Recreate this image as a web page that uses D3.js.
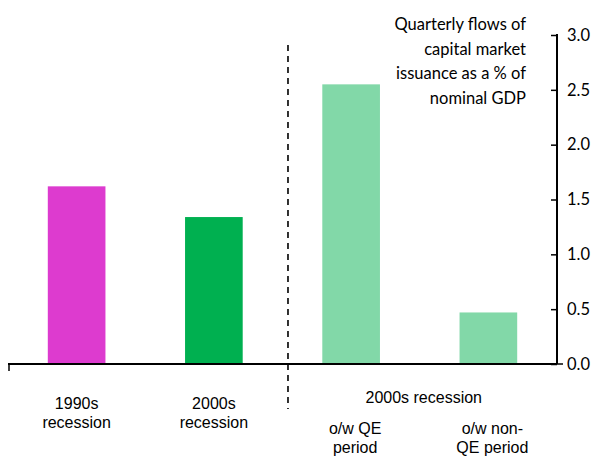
<!DOCTYPE html>
<html>
<head>
<meta charset="utf-8">
<script src="https://cdn.jsdelivr.net/npm/d3@7"></script>
<style>
  html, body { margin: 0; padding: 0; background: #fff; }
  svg { display: block; }
</style>
</head>
<body>
<svg id="chart" width="604" height="456"></svg>
<script>
// Capital market issuance during recessions (% of nominal GDP, quarterly flows)
const categories = ["1990s recession", "2000s recession", "o/w QE period", "o/w non-QE period"];
const values = [1.62, 1.34, 2.55, 0.47];
const barColors = ["#DD3BCF", "#00B050", "#82D8A8", "#82D8A8"];
const categoryLines = [["1990s", "recession"], ["2000s", "recession"], ["o/w QE", "period"], ["o/w non-", "QE period"]];
const yTicks = [0, 0.5, 1.0, 1.5, 2.0, 2.5, 3.0];
const groupLabel = "2000s recession";
const noteLines = ["Quarterly flows of", "capital market", "issuance as a % of", "nominal GDP"];

const svg = d3.select("#chart");
const plotLeft = 8, plotRight = 557, plotTop = 35, plotBottom = 364;

const x = d3.scaleBand().domain(categories).range([plotLeft, plotRight]).paddingInner(0.58).paddingOuter(0.29);
const y = d3.scaleLinear().domain([0, 3]).range([plotBottom, plotTop]);

// bars
svg.append("g").selectAll("rect").data(values).join("rect")
  .attr("x", (d, i) => x(categories[i]))
  .attr("width", x.bandwidth())
  .attr("y", d => y(d))
  .attr("height", d => y(0) - y(d))
  .attr("fill", (d, i) => barColors[i]);

// right-hand value axis, ticks pointing inward
const yAxis = d3.axisRight(y).tickValues(yTicks).tickFormat(d3.format(".1f")).tickSizeInner(-6).tickSizeOuter(0);
const gy = svg.append("g").attr("transform", `translate(${plotRight},0)`).call(yAxis);
gy.select(".domain").attr("stroke", "#000").attr("stroke-width", 2).attr("d", `M0,${plotTop - 1}V${plotBottom}`);
gy.selectAll(".tick line").attr("stroke", "#000").attr("stroke-width", 1.5);
gy.selectAll(".tick text")
  .attr("x", 10)
  .attr("font-family", "Lato, 'Open Sans', sans-serif")
  .attr("font-size", 16.5)
  .attr("fill", "#000");
// small outward tick at zero
svg.append("line").attr("x1", plotRight).attr("x2", plotRight + 6).attr("y1", y(0)).attr("y2", y(0))
  .attr("stroke", "#000").attr("stroke-width", 1.5);

// category axis baseline
svg.append("line").attr("x1", plotLeft).attr("x2", plotRight).attr("y1", y(0)).attr("y2", y(0))
  .attr("stroke", "#000").attr("stroke-width", 2);
svg.append("line").attr("x1", plotLeft + 1).attr("x2", plotLeft + 1).attr("y1", y(0)).attr("y2", y(0) + 7)
  .attr("stroke", "#000").attr("stroke-width", 1.5);

// divider between the two recessions, a little right of the gap centre
const divX = plotLeft + (plotRight - plotLeft) * 0.51;
svg.append("line").attr("x1", divX).attr("x2", divX).attr("y1", 45).attr("y2", 409)
  .attr("stroke", "#000").attr("stroke-width", 1.6).attr("stroke-dasharray", "6,5");

// category labels
const labelFont = "'Liberation Sans', Arial, sans-serif";
categoryLines.forEach((lines, i) => {
  const cx = x(categories[i]) + x.bandwidth() / 2 + (i < 2 ? 0 : 4);
  const y0 = i < 2 ? 409 : 434;
  const t = svg.append("text").attr("text-anchor", "middle")
    .attr("font-family", labelFont).attr("font-size", 16).attr("fill", "#000");
  lines.forEach((l, j) => t.append("tspan").attr("x", cx).attr("y", y0 + j * 18.5).text(l));
});

// group label spanning the QE split
const gx = (x(categories[2]) + x(categories[3]) + x.bandwidth()) / 2 + 4;
svg.append("text").attr("x", gx).attr("y", 403).attr("text-anchor", "middle")
  .attr("font-family", labelFont).attr("font-size", 16).attr("fill", "#000").text(groupLabel);

// axis note
const note = svg.append("text").attr("text-anchor", "end")
  .attr("font-family", "Lato, 'Open Sans', sans-serif").attr("font-size", 16.5).attr("fill", "#000");
noteLines.forEach((l, j) => note.append("tspan").attr("x", 526).attr("y", 30 + j * 24.5).text(l));
</script>
</body>
</html>
